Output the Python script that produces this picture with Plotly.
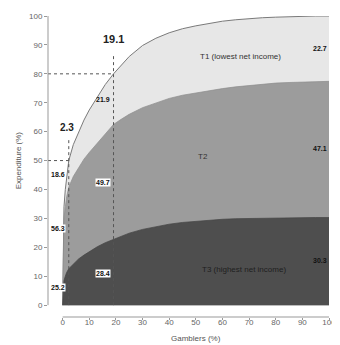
import plotly.graph_objects as go

# Cumulative share of gamblers (%)
gamblers = [0, 0.2, 0.5, 1, 1.5, 2.3, 4, 6, 8, 10, 13, 16, 19.1, 22, 25, 30, 35, 40,
            45, 50, 55, 60, 65, 70, 75, 80, 85, 90, 95, 100]
# Cumulative expenditure (%) - all tiers (T1+T2+T3)
total = [0, 25, 34, 40, 44.5, 50, 55.5, 60, 64, 67.5, 72, 76.3, 80, 83, 86, 89.8, 92.3, 94.2,
         95.6, 96.6, 97.5, 98.2, 98.7, 99.1, 99.4, 99.6, 99.8, 99.9, 100, 100]
# T2 + T3
t2_t3 = [0, 22, 30, 34, 37.5, 40.8, 44.5, 47.5, 50.5, 52.8, 56, 59.3, 62.5, 64.3, 66, 68.3, 70, 71.5,
         72.6, 73.4, 74.2, 74.9, 75.5, 76, 76.4, 76.8, 77, 77.2, 77.3, 77.4]
# T3 only
t3 = [0, 6, 8.5, 10, 11.3, 12.6, 14.3, 16, 17.3, 18.5, 20.2, 21.6, 22.7, 23.8, 24.9, 26.2, 27.2, 28,
      28.6, 29, 29.4, 29.7, 29.9, 30, 30.1, 30.2, 30.2, 30.3, 30.3, 30.3]

cut_points = [2.3, 19.1]
cut_levels = [50, 80]
shares_cut1 = ["18.6", "56.3", "25.2"]
shares_cut2 = ["21.9", "49.7", "28.4"]
shares_all = ["22.7", "47.1", "30.3"]
tier_names = ["T1 (lowest net income)", "T2", "T3 (highest net income)"]
x_ticks = [0, 10, 20, 30, 40, 50, 60, 70, 80, 90, 100]
y_ticks = [0, 10, 20, 30, 40, 50, 60, 70, 80, 90, 100]

FONT = "Liberation Sans, Arial, sans-serif"

fig = go.Figure()
fig.add_trace(go.Scatter(x=gamblers, y=total, mode="lines", fill="tozeroy",
                         fillcolor="#e7e7e7", line=dict(color="#7a7a7a", width=1),
                         hoverinfo="skip", showlegend=False))
fig.add_trace(go.Scatter(x=gamblers, y=t2_t3, mode="lines", fill="tozeroy",
                         fillcolor="#9c9c9c", line=dict(color="#8c8c8c", width=0.7),
                         hoverinfo="skip", showlegend=False))
fig.add_trace(go.Scatter(x=gamblers, y=t3, mode="lines", fill="tozeroy",
                         fillcolor="#4e4e4e", line=dict(color="#444444", width=0.7),
                         hoverinfo="skip", showlegend=False))

shapes = []
tops = [57.5, 87]
for cx, top, lvl in zip(cut_points, tops, cut_levels):
    shapes.append(dict(type="line", xref="x", yref="y", x0=cx, x1=cx, y0=0, y1=top,
                       line=dict(color="#555555", width=1, dash="dot"), layer="above"))
    shapes.append(dict(type="line", xref="x", yref="y", x0=-5.5, x1=cx, y0=lvl, y1=lvl,
                       line=dict(color="#555555", width=1, dash="dot"), layer="above"))
# detached axis lines
shapes.append(dict(type="line", xref="paper", yref="y", x0=0, x1=0, y0=0, y1=100,
                   line=dict(color="#999999", width=1)))
shapes.append(dict(type="line", xref="x", yref="paper", x0=0, x1=100, y0=0, y1=0,
                   line=dict(color="#999999", width=1)))

annotations = []
lab_font = dict(family=FONT, size=7, color="#111111")
for txt, yy in zip(shares_cut1, [45.2, 26.5, 6.2]):
    annotations.append(dict(x=-1.8, y=yy, xref="x", yref="y", text="<b>%s</b>" % txt,
                            showarrow=False, font=lab_font, bgcolor="white", borderpad=0))
for txt, yy, bg in zip(shares_cut2, [71, 42.4, 11], [None, "white", "white"]):
    a = dict(x=15, y=yy, xref="x", yref="y", text="<b>%s</b>" % txt,
             showarrow=False, font=lab_font, borderpad=0)
    if bg:
        a["bgcolor"] = bg
    annotations.append(a)
for txt, yy in zip(shares_all, [88.6, 54.1, 15.5]):
    annotations.append(dict(x=96.5, y=yy, xref="x", yref="y", text="<b>%s</b>" % txt,
                            showarrow=False, font=lab_font))
for txt, xx, yy in zip(tier_names, [66.7, 52.7, 68], [86, 51.4, 12.4]):
    annotations.append(dict(x=xx, y=yy, xref="x", yref="y", text=txt, showarrow=False,
                            font=dict(family=FONT, size=8, color="#333333" if txt != tier_names[2] else "#1e1e1e")))
annotations.append(dict(x=1.6, y=61.6, xref="x", yref="y", text="<b>2.3</b>", showarrow=False,
                        font=dict(family=FONT, size=10, color="#222222")))
annotations.append(dict(x=19.1, y=92, xref="x", yref="y", text="<b>19.1</b>", showarrow=False,
                        font=dict(family=FONT, size=11, color="#222222")))
annotations.append(dict(x=-0.104, y=50, xref="paper", yref="y", text="Expenditure (%)",
                        textangle=-90, showarrow=False, xanchor="center", yanchor="middle",
                        font=dict(family=FONT, size=8, color="#555555")))
annotations.append(dict(x=50, y=-0.07, xref="x", yref="paper", text="Gamblers (%)",
                        showarrow=False, xanchor="center", yanchor="middle",
                        font=dict(family=FONT, size=8, color="#555555")))

# page body has an 8px default margin: figure is shrunk by 8px to fit the window
fig.update_layout(
    width=332, height=337,
    margin=dict(l=40, r=4, t=7, b=28),
    plot_bgcolor="white", paper_bgcolor="white",
    shapes=shapes, annotations=annotations,
    xaxis=dict(range=[-5.5, 100], tickvals=x_ticks, ticks="outside", ticklen=2,
               tickcolor="#999999", showgrid=False, zeroline=False, showline=False,
               ticklabelstandoff=-5, ticklabeloverflow="allow",
               tickfont=dict(family=FONT, size=8, color="#666666")),
    yaxis=dict(range=[-4.1, 100], tickvals=y_ticks, ticks="outside", ticklen=3,
               tickcolor="#999999", showgrid=False, zeroline=False, showline=False,
               tickfont=dict(family=FONT, size=8, color="#666666")),
)

fig.write_html("out.html")
